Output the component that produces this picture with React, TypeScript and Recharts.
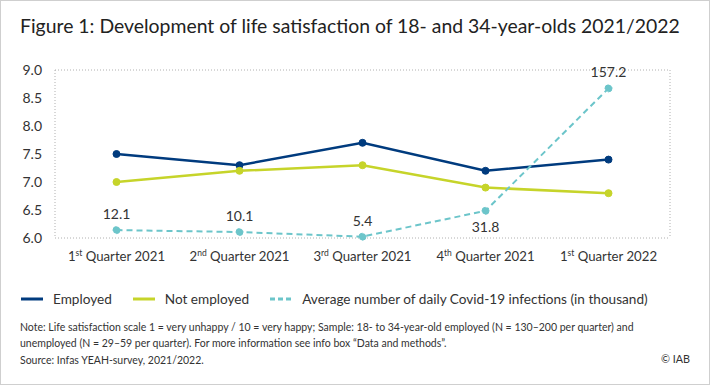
import { LineChart, Line, XAxis, YAxis, CartesianGrid } from 'recharts'

const quarters = ['1st Quarter 2021', '2nd Quarter 2021', '3rd Quarter 2021', '4th Quarter 2021', '1st Quarter 2022']
const employed = [7.5, 7.3, 7.7, 7.2, 7.4]
const notEmployed = [7.0, 7.2, 7.3, 6.9, 6.8]
const covidCases = [12.1, 10.1, 5.4, 31.8, 157.2]
const yTicks = [6.0, 6.5, 7.0, 7.5, 8.0, 8.5, 9.0]

const NAVY = '#003b7e'
const LIME = '#c6d42a'
const TEAL = '#6cc5ca'
const TEXT = '#333333'
const FONT = "Lato, 'Noto Sans', sans-serif"

const data = quarters.map((q, i) => ({
  q,
  employed: employed[i],
  notEmployed: notEmployed[i],
  covid: covidCases[i],
}))

// "1st Quarter 2021" -> 1 + superscript st + Quarter 2021
const QuarterTick = ({ x, y, payload }: any) => {
  const m = /^(\d)(st|nd|rd|th) (.*)$/.exec(payload.value)
  if (!m) return null
  return (
    <text x={x} y={y} dy={15} textAnchor="middle" fill={TEXT} fontSize={13.2} fontFamily={FONT}>
      <tspan>{m[1]}</tspan>
      <tspan fontSize={8.5} dy={-5}>{m[2]}</tspan>
      <tspan dy={5}> {m[3]}</tspan>
    </text>
  )
}

const CovidLabel = ({ x, y, value, index }: any) => {
  const below = index === 3
  return (
    <text x={x} y={below ? y + 21 : y - 11} textAnchor="middle" fill={TEXT} fontSize={14} fontFamily={FONT}>
      {Number(value).toFixed(1)}
    </text>
  )
}

const legendItems = [
  { name: 'Employed', color: NAVY, dashed: false },
  { name: 'Not employed', color: LIME, dashed: false },
  { name: 'Average number of daily Covid-19 infections (in thousand)', color: TEAL, dashed: true },
]

export default function App() {
  return (
    <div
      style={{
        position: 'absolute',
        left: 0,
        top: 0,
        width: 710,
        height: 385,
        boxSizing: 'border-box',
        border: '1px solid #cfcfcf',
        background: '#fff',
        fontFamily: FONT,
        color: TEXT,
      }}
    >
      <div style={{ position: 'absolute', left: 19, top: 13, fontSize: 19.4, color: '#222', whiteSpace: 'nowrap' }}>
        Figure 1: Development of life satisfaction of 18- and 34-year-olds 2021/2022
      </div>

      <div style={{ position: 'absolute', left: -1, top: -1 }}>
        <LineChart width={710} height={270} data={data} margin={{ top: 70, right: 40, left: 0, bottom: 2 }}>
          <CartesianGrid
            stroke="#b0b0b0"
            strokeDasharray="1 2"
            verticalCoordinatesGenerator={({ offset }: any) => [offset.left, offset.left + offset.width]}
          />
          <XAxis
            dataKey="q"
            scale="band"
            axisLine={false}
            tickLine={false}
            height={30}
            interval={0}
            tick={<QuarterTick />}
          />
          <YAxis
            yAxisId="sat"
            width={55}
            domain={[6, 9]}
            ticks={yTicks}
            axisLine={false}
            tickLine={false}
            tickSize={0}
            tickMargin={13}
            tickFormatter={(v: number) => v.toFixed(1)}
            tick={{ fill: TEXT, fontSize: 14, fontFamily: FONT }}
          />
          <YAxis yAxisId="covid" orientation="right" hide domain={[4, 176]} />
          <Line
            yAxisId="sat"
            dataKey="employed"
            stroke={NAVY}
            strokeWidth={2.5}
            dot={{ r: 3.5, fill: NAVY, stroke: NAVY, strokeWidth: 1 }}
            isAnimationActive={false}
          />
          <Line
            yAxisId="sat"
            dataKey="notEmployed"
            stroke={LIME}
            strokeWidth={2.5}
            dot={{ r: 3.5, fill: LIME, stroke: LIME, strokeWidth: 1 }}
            isAnimationActive={false}
          />
          <Line
            yAxisId="covid"
            dataKey="covid"
            stroke={TEAL}
            strokeWidth={2}
            strokeDasharray="6 4"
            dot={{ r: 3.5, fill: TEAL, stroke: TEAL, strokeWidth: 1 }}
            label={<CovidLabel />}
            isAnimationActive={false}
          />
        </LineChart>
      </div>

      <div style={{ position: 'absolute', left: 20, top: 290, display: 'flex', alignItems: 'center', fontSize: 13.6, whiteSpace: 'nowrap' }}>
        {legendItems.map((it) => (
          <div key={it.name} style={{ display: 'flex', alignItems: 'center', marginRight: 21 }}>
            <svg width={22} height={4} style={{ marginRight: 10 }}>
              <line
                x1={0}
                y1={2}
                x2={22}
                y2={2}
                stroke={it.color}
                strokeWidth={3}
                strokeDasharray={it.dashed ? '5 3' : undefined}
              />
            </svg>
            <span>{it.name}</span>
          </div>
        ))}
      </div>

      <div style={{ position: 'absolute', left: 19, top: 318, fontSize: 10.5, lineHeight: '16px', whiteSpace: 'nowrap' }}>
        <div>
          Note: Life satisfaction scale 1 = very unhappy / 10 = very happy; Sample: 18- to 34-year-old employed (N = 130–200 per quarter) and
        </div>
        <div>unemployed (N = 29–59 per quarter). For more information see info box “Data and methods”.</div>
        <div style={{ marginTop: 1 }}>Source: Infas YEAH-survey, 2021/2022.</div>
      </div>
      <div style={{ position: 'absolute', right: 19, top: 351, fontSize: 10.8 }}>© IAB</div>
    </div>
  )
}
